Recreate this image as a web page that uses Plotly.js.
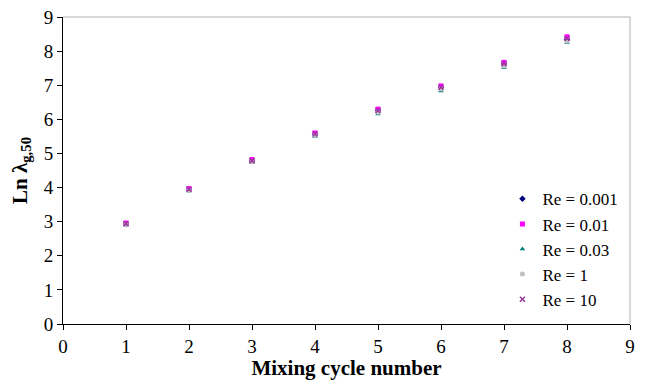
<!DOCTYPE html>
<html>
<head>
<meta charset="utf-8">
<script src="https://cdn.plot.ly/plotly-3.0.1.min.js"></script>
<style>
  html, body { margin: 0; padding: 0; background: #ffffff; }
  #chart { width: 650px; height: 380px; }
</style>
</head>
<body>
<div id="chart"></div>
<script>
// Mixing cycle number on the x axis
const cycles = [1, 2, 3, 4, 5, 6, 7, 8];

// Ln of the geometric stretch (lambda_g,50) for each Reynolds number
const re0001 = [2.93, 3.94, 4.78, 5.56, 6.26, 6.93, 7.62, 8.35];
const re001  = [2.96, 3.97, 4.82, 5.60, 6.30, 6.98, 7.67, 8.42];
const re003  = [2.90, 3.90, 4.73, 5.50, 6.16, 6.83, 7.52, 8.25];
const re1    = [2.92, 3.92, 4.76, 5.53, 6.21, 6.89, 7.57, 8.30];
const re10   = [2.94, 3.95, 4.79, 5.57, 6.26, 6.94, 7.63, 8.37];

const seriesNames = ['Re = 0.001', 'Re = 0.01', 'Re = 0.03', 'Re = 1', 'Re = 10'];
const seriesData = [re0001, re001, re003, re1, re10];
const seriesStyle = [
  { color: '#000080', symbol: 'diamond', size: 5 },
  { color: '#ff00ff', symbol: 'square', size: 5 },
  { color: '#008080', symbol: 'triangle-up', size: 5 },
  { color: '#c0c0c0', symbol: 'circle', size: 5 },
  { color: '#993399', symbol: 'x-thin', size: 5 }
];

const traces = seriesData.map((ys, i) => ({
  type: 'scatter',
  mode: 'markers',
  name: seriesNames[i],
  x: cycles,
  y: ys,
  marker: {
    color: seriesStyle[i].color,
    symbol: seriesStyle[i].symbol,
    size: seriesStyle[i].size,
    line: { color: seriesStyle[i].color, width: seriesStyle[i].symbol === 'x-thin' ? 1.5 : 0 }
  }
}));

const serif = 'Liberation Serif, Times New Roman, serif';

const layout = {
  width: 650,
  height: 380,
  margin: { l: 63, r: 20, t: 17, b: 56 },
  paper_bgcolor: '#ffffff',
  plot_bgcolor: '#ffffff',
  font: { family: serif, size: 18, color: '#000000' },
  showlegend: true,
  legend: {
    x: 0.775, y: 0.465, xanchor: 'left', yanchor: 'top',
    bgcolor: 'rgba(0,0,0,0)', borderwidth: 0,
    font: { family: serif, size: 17, color: '#000000' },
    itemwidth: 30, tracegroupgap: 0
  },
  xaxis: {
    range: [0, 9], dtick: 1, tick0: 0,
    showgrid: false, zeroline: false,
    showline: true, linecolor: '#000000', linewidth: 1,
    ticks: 'outside', ticklen: 5, tickcolor: '#000000',
    tickfont: { family: serif, size: 19, color: '#000000' },
    title: { text: '<b>Mixing cycle number</b>', font: { family: serif, size: 21, color: '#000000' }, standoff: 4 }
  },
  yaxis: {
    range: [0, 9], dtick: 1, tick0: 0,
    showgrid: false, zeroline: false,
    showline: true, linecolor: '#000000', linewidth: 1,
    ticks: 'outside', ticklen: 5, tickcolor: '#000000',
    tickfont: { family: serif, size: 19, color: '#000000' },
    title: { text: '<b>Ln λ<sub>g,50</sub></b>', font: { family: serif, size: 21, color: '#000000' }, standoff: 10 }
  },
  shapes: [
    // light frame on the top and right edges of the plot area
    { type: 'line', xref: 'paper', yref: 'paper', x0: 0, x1: 1, y0: 1, y1: 1, line: { color: '#b0b0b0', width: 1 } },
    { type: 'line', xref: 'paper', yref: 'paper', x0: 1, x1: 1, y0: 0, y1: 1, line: { color: '#b0b0b0', width: 1 } }
  ]
};

Plotly.newPlot('chart', traces, layout, { displayModeBar: false, staticPlot: true });
</script>
</body>
</html>
